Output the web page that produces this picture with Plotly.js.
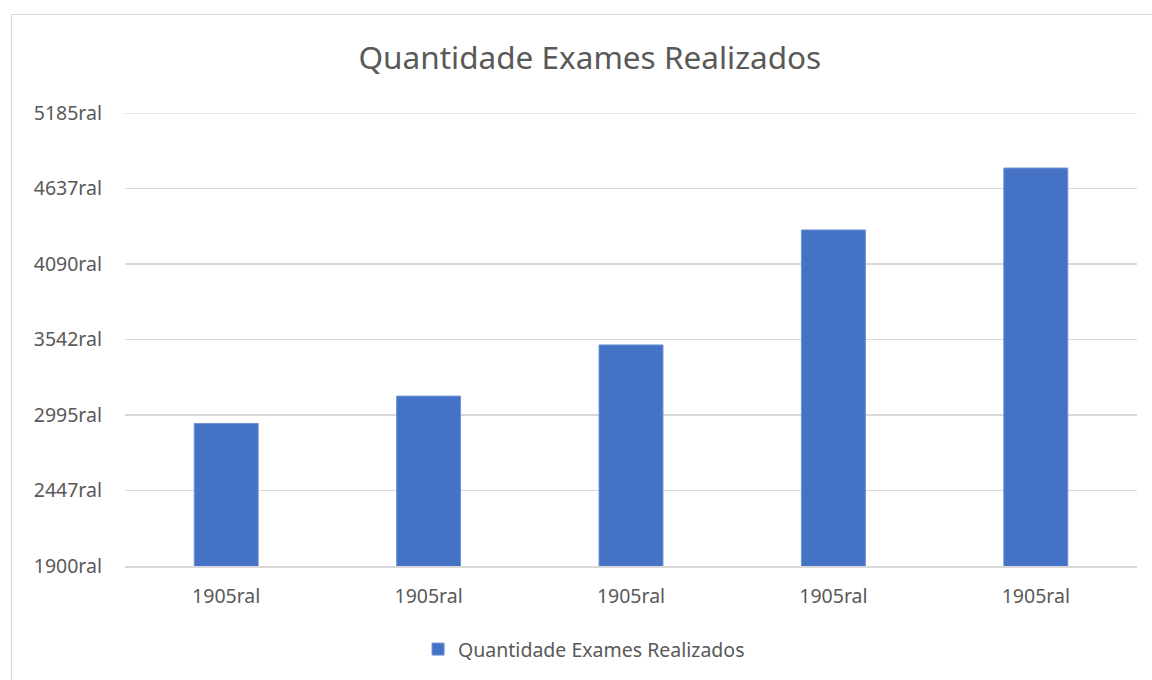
<!DOCTYPE html>
<html>
<head>
<meta charset="utf-8">
<script src="https://cdn.plot.ly/plotly-3.0.1.min.js"></script>
<style>
html,body{margin:0;padding:0;background:#fff;}
#wrap{position:relative;width:1152px;height:680px;overflow:hidden;}
#frame{position:absolute;left:11px;top:14px;width:1150px;height:680px;border:1px solid #d9d9d9;box-sizing:border-box;}
#chart{position:absolute;left:0;top:0;width:1152px;height:680px;}
</style>
</head>
<body>
<div id="wrap"><div id="frame"></div><div id="chart"></div></div>
<script>
const categories = ["1905ral","1905ral","1905ral","1905ral","1905ral"];
const values = [2934, 3132, 3503, 4337, 4786];
const yTickVals = [1900, 2447, 2995, 3542, 4090, 4637, 5185];
const yTickText = ["1900ral","2447ral","2995ral","3542ral","4090ral","4637ral","5185ral"];
const seriesName = "Quantidade Exames Realizados";
const chartTitle = "Quantidade Exames Realizados";

const positions = categories.map((c, i) => i);
const font = "Noto Sans, Open Sans, sans-serif";
const yMin = yTickVals[0];
const yMax = yTickVals[yTickVals.length - 1];

const data = [{
  type: "bar",
  x: positions,
  y: values,
  name: seriesName,
  width: 0.316,
  marker: {color: "#4472c4", line: {color: "#6f93d3", width: 1}},
  showlegend: true,
  hoverinfo: "skip"
}];

const layout = {
  width: 1152, height: 680,
  paper_bgcolor: "rgba(0,0,0,0)",
  plot_bgcolor: "rgba(0,0,0,0)",
  margin: {l: 125, r: 15, t: 113, b: 114},
  font: {family: font, color: "#595959"},
  title: {text: chartTitle, x: 0.512, xref: "container", xanchor: "center", y: 0.915, yref: "container", yanchor: "middle", font: {size: 31.5, color: "#595959", family: font}},
  xaxis: {
    range: [-0.5, 4.5],
    tickvals: positions,
    ticktext: categories,
    showgrid: false,
    zeroline: false,
    showline: true,
    linecolor: "#d9d9d9",
    linewidth: 1.5,
    ticks: "",
    ticklabelstandoff: 12,
    tickfont: {size: 19.5, color: "#595959", family: font}
  },
  yaxis: {
    range: [yMin, yMax],
    tickvals: yTickVals,
    ticktext: yTickText,
    showgrid: true,
    gridcolor: "#d9d9d9",
    gridwidth: 1.5,
    zeroline: false,
    showline: false,
    ticks: "",
    ticklabelstandoff: 22,
    tickfont: {size: 19.5, color: "#595959", family: font}
  },
  shapes: [{
    type: "line", xref: "paper", yref: "y",
    x0: 0, x1: 1, y0: yMax, y1: yMax,
    line: {color: "#d9d9d9", width: 1.5},
    layer: "below"
  }],
  legend: {
    orientation: "h",
    x: 0.507, xref: "container", xanchor: "center",
    y: 0.045, yref: "container", yanchor: "middle",
    font: {size: 19.5, color: "#595959", family: font},
    itemwidth: 30
  },
  bargap: 0.684
};

Plotly.newPlot("chart", data, layout, {staticPlot: true, displayModeBar: false});
</script>
</body>
</html>
